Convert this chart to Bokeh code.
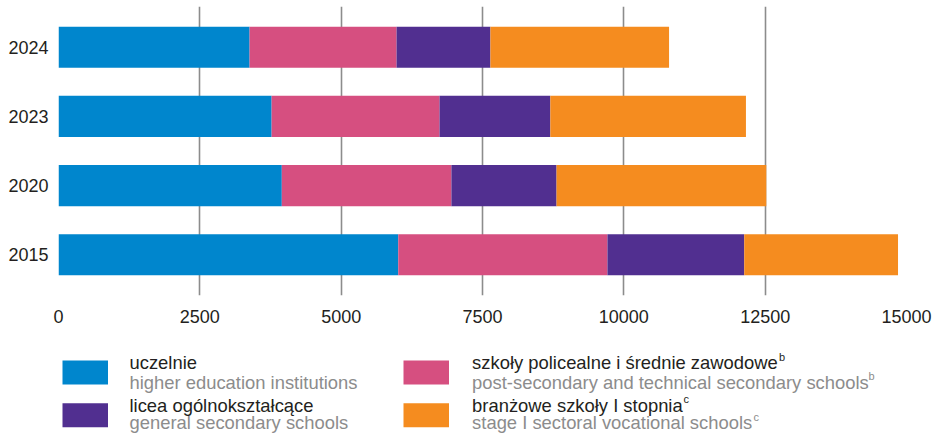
from bokeh.plotting import figure
from bokeh.models import FactorRange, Range1d, FixedTicker, ColumnDataSource
from bokeh.layouts import column
from bokeh.embed import file_html
from bokeh.resources import INLINE
from bokeh.core.properties import value

# ---------------- data ----------------
years = ["2015", "2020", "2023", "2024"]
uczelnie = [6010, 3950, 3770, 3380]
policealne = [3700, 3000, 2970, 2600]
licea = [2420, 1860, 1960, 1660]
branzowe = [2720, 3710, 3460, 3160]
x_ticks = [0, 2500, 5000, 7500, 10000, 12500, 15000]

series_keys = ["uczelnie", "policealne", "licea", "branzowe"]
labels_pl = ["uczelnie", "szkoły policealne i średnie zawodowe",
             "licea ogólnokształcące", "branżowe szkoły I stopnia"]
labels_en = ["higher education institutions",
             "post-secondary and technical secondary schools",
             "general secondary schools",
             "stage I sectoral vocational schools"]
footnotes = ["", "b", "", "c"]

# ---------------- styles ----------------
colors = ["#0086cd", "#d64f80", "#512f90", "#f58c1f"]
FONT = "Liberation Sans"
DARK = "#231f20"
GREY = "#8c8c8c"
W, BL, BR = 936, 58, 30

source = ColumnDataSource(dict(year=years, uczelnie=uczelnie, policealne=policealne,
                               licea=licea, branzowe=branzowe))

p = figure(width=W, height=340,
           y_range=FactorRange(factors=years, range_padding=0.088,
                               range_padding_units="absolute"),
           x_range=Range1d(0, 15000),
           output_backend="svg", toolbar_location=None,
           min_border_left=BL, min_border_right=BR,
           min_border_top=6, min_border_bottom=45)

p.hbar_stack(series_keys, y="year", height=0.594, color=colors,
             line_color=None, source=source)

p.outline_line_color = None
p.ygrid.visible = False
p.xgrid.ticker = FixedTicker(ticks=x_ticks)
p.xgrid.grid_line_color = "#8c8c8c"
p.xgrid.grid_line_width = 1.6

p.xaxis.ticker = FixedTicker(ticks=x_ticks)
for ax in (p.xaxis[0], p.yaxis[0]):
    ax.axis_line_color = None
    ax.major_tick_line_color = None
    ax.minor_tick_line_color = None
    ax.major_tick_out = 0
    ax.major_tick_in = 0
    ax.major_label_text_font = FONT
    ax.major_label_text_font_size = "18px"
    ax.major_label_text_color = DARK
p.xaxis.major_label_standoff = 14
p.yaxis.major_label_standoff = 10

# ---------------- legend (x in page pixels, y in pixels from the legend top) ----------------
LH = 95
leg = figure(width=W, height=LH, x_range=Range1d(BL, W - BR), y_range=Range1d(LH, 0),
             output_backend="svg", toolbar_location=None,
             min_border_left=BL, min_border_right=BR, min_border_top=0, min_border_bottom=0,
             x_axis_location=None, y_axis_location=None)
leg.grid.visible = False
leg.outline_line_color = None

cells = [(0, 0), (1, 0), (0, 1), (1, 1)]
col_sw_x = [62, 403]
col_tx_x = [129, 471.6]
row_sw_top = [20, 62.7]
row_pl_base = [22.2, 64.7]
row_en_base = [41.5, 82.3]
sup_x = {1: (778.5, 868.0), 3: (683.0, 753.0)}

sw = dict(left=[], right=[], top=[], bottom=[], color=[])
pl = dict(x=[], y=[], text=[])
en = dict(x=[], y=[], text=[])
sp = dict(x=[], y=[], text=[], c=[])
for i, key in enumerate(series_keys):
    c, r = cells[i]
    sw["left"].append(col_sw_x[c]); sw["right"].append(col_sw_x[c] + 45.5)
    sw["top"].append(row_sw_top[r]); sw["bottom"].append(row_sw_top[r] + 24)
    sw["color"].append(colors[i])
    pl["x"].append(col_tx_x[c]); pl["y"].append(row_pl_base[r]); pl["text"].append(labels_pl[i])
    en["x"].append(col_tx_x[c]); en["y"].append(row_en_base[r]); en["text"].append(labels_en[i])
    if footnotes[i]:
        x1, x2 = sup_x[i]
        sp["x"] += [x1, x2]
        sp["y"] += [row_pl_base[r] - 6, row_en_base[r] - 6]
        sp["text"] += [footnotes[i], footnotes[i]]
        sp["c"] += [DARK, GREY]

leg.quad(left="left", right="right", top="top", bottom="bottom", color="color",
         line_color=None, source=ColumnDataSource(sw))
leg.text(x="x", y="y", text="text", source=ColumnDataSource(pl),
         text_font=value(FONT), text_font_size=value("18.4px"), text_color=DARK,
         text_baseline="alphabetic", text_align="left")
leg.text(x="x", y="y", text="text", source=ColumnDataSource(en),
         text_font=value(FONT), text_font_size=value("18.4px"), text_color=GREY,
         text_baseline="alphabetic", text_align="left")
leg.text(x="x", y="y", text="text", source=ColumnDataSource(sp),
         text_font=value(FONT), text_font_size=value("11px"), text_color="c",
         text_baseline="alphabetic", text_align="left")

layout = column(p, leg)
open("out.html", "w").write(file_html(layout, INLINE))
